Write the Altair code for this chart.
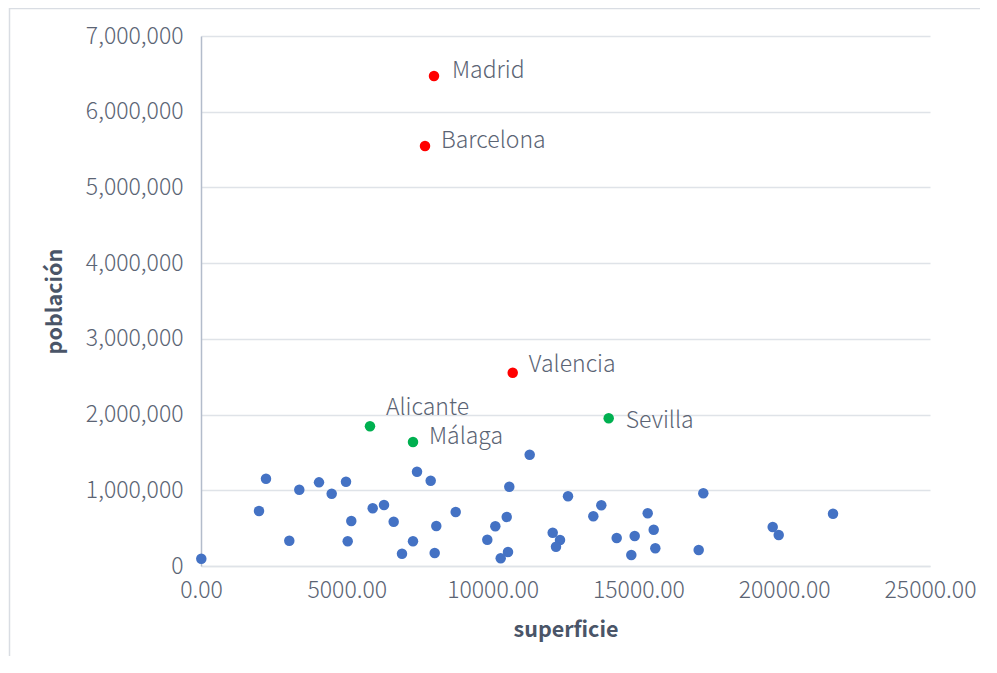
import altair as alt
import pandas as pd

# superficie (km2) and población of the 44 unlabelled provinces (blue)
sup_blue = [10, 2229, 1989, 3028, 3371, 4047, 4482, 4973, 5154, 5031,
            5888, 6276, 6608, 7408, 7877, 6893, 7270, 8069, 8014, 8735,
            9818, 11272, 10573, 10484, 10093, 10528, 10278, 12586, 12061, 12312,
            12174, 13728, 13454, 14256, 14873, 14757, 15319, 15525, 15580, 17226,
            17068, 19606, 19812, 21674]
pob_blue = [96000, 1153000, 726000, 334000, 1008000, 1105000, 955000, 1113000, 594000, 326000,
            762000, 806000, 585000, 1245000, 1127000, 162000, 326000, 528000, 172000, 713000,
            347000, 1470000, 1047000, 647000, 524000, 185000, 102000, 921000, 440000, 343000,
            255000, 802000, 656000, 370000, 396000, 145000, 696000, 479000, 234000, 960000,
            211000, 515000, 409000, 691000]

# labelled provinces
nombres = ["Madrid", "Barcelona", "Valencia", "Alicante", "Málaga", "Sevilla"]
sup_lab = [7990, 7682, 10690, 5795, 7270, 13981]
pob_lab = [6472000, 5547000, 2553000, 1845000, 1638000, 1951000]
grupo_lab = ["rojo", "rojo", "rojo", "verde", "verde", "verde"]

grupos = ["azul", "rojo", "verde"]
colores = ["#4472C4", "#FF0000", "#00B050"]

df = pd.DataFrame({
    "superficie": sup_blue + sup_lab,
    "población": pob_blue + pob_lab,
    "grupo": ["azul"] * len(sup_blue) + grupo_lab,
    "nombre": [""] * len(sup_blue) + nombres,
})

FONT = "Noto Sans CJK SC"
TXT = "#5b6474"

x_enc = alt.X("superficie:Q",
              scale=alt.Scale(domain=[0, 25000], nice=False),
              axis=alt.Axis(values=[0, 5000, 10000, 15000, 20000, 25000], format=".2f",
                            title="superficie", grid=False, ticks=False,
                            labelFlush=False, labelOverlap=False,
                            domainColor="#dfe3e8", domainWidth=1.5,
                            labelPadding=13, titlePadding=17))
y_enc = alt.Y("población:Q",
              scale=alt.Scale(domain=[0, 7000000], nice=False),
              axis=alt.Axis(values=[0, 1000000, 2000000, 3000000, 4000000, 5000000, 6000000, 7000000],
                            format=",.0f", title="población", grid=True, ticks=False,
                            labelFlush=False, labelOverlap=False,
                            gridColor="#dfe3e8", gridWidth=1.5,
                            domainColor="#b3bccb", domainWidth=1.5,
                            labelPadding=18, titlePadding=19))

points = alt.Chart(df).mark_circle(size=110, opacity=1).encode(
    x=x_enc,
    y=y_enc,
    color=alt.Color("grupo:N", scale=alt.Scale(domain=grupos, range=colores), legend=None),
)

offsets = {"Madrid": (18, -5), "Barcelona": (16, -5), "Valencia": (16, -8),
           "Alicante": (16, -18), "Málaga": (16, -5), "Sevilla": (17, 3)}

labels = []
for n in nombres:
    dx, dy = offsets[n]
    labels.append(
        alt.Chart(df).transform_filter(alt.datum.nombre == n).mark_text(
            align="left", baseline="middle", dx=dx, dy=dy,
            font=FONT, fontSize=23, fontWeight=300, color=TXT
        ).encode(x="superficie:Q", y="población:Q", text="nombre:N")
    )

border = alt.Chart(pd.DataFrame({"a": [0]})).mark_rect(
    filled=False, stroke="#d9dde3", strokeWidth=1.5, clip=False
).encode(x=alt.value(-191.5), x2=alt.value(820), y=alt.value(-27.5), y2=alt.value(720))

chart = alt.layer(border, points, *labels).properties(
    width=729, height=530,
    autosize=alt.AutoSizeParams(type="none"),
    padding={"left": 193, "top": 28, "right": 50, "bottom": 90},
).configure_view(stroke=None).configure_axis(
    labelFont=FONT, labelFontSize=23, labelColor=TXT, labelFontWeight=300,
    titleFont=FONT, titleFontSize=21.5, titleColor="#4a5568", titleFontWeight="bold",
)

chart.save("out.html", embed_options={"renderer": "svg", "actions": False})
